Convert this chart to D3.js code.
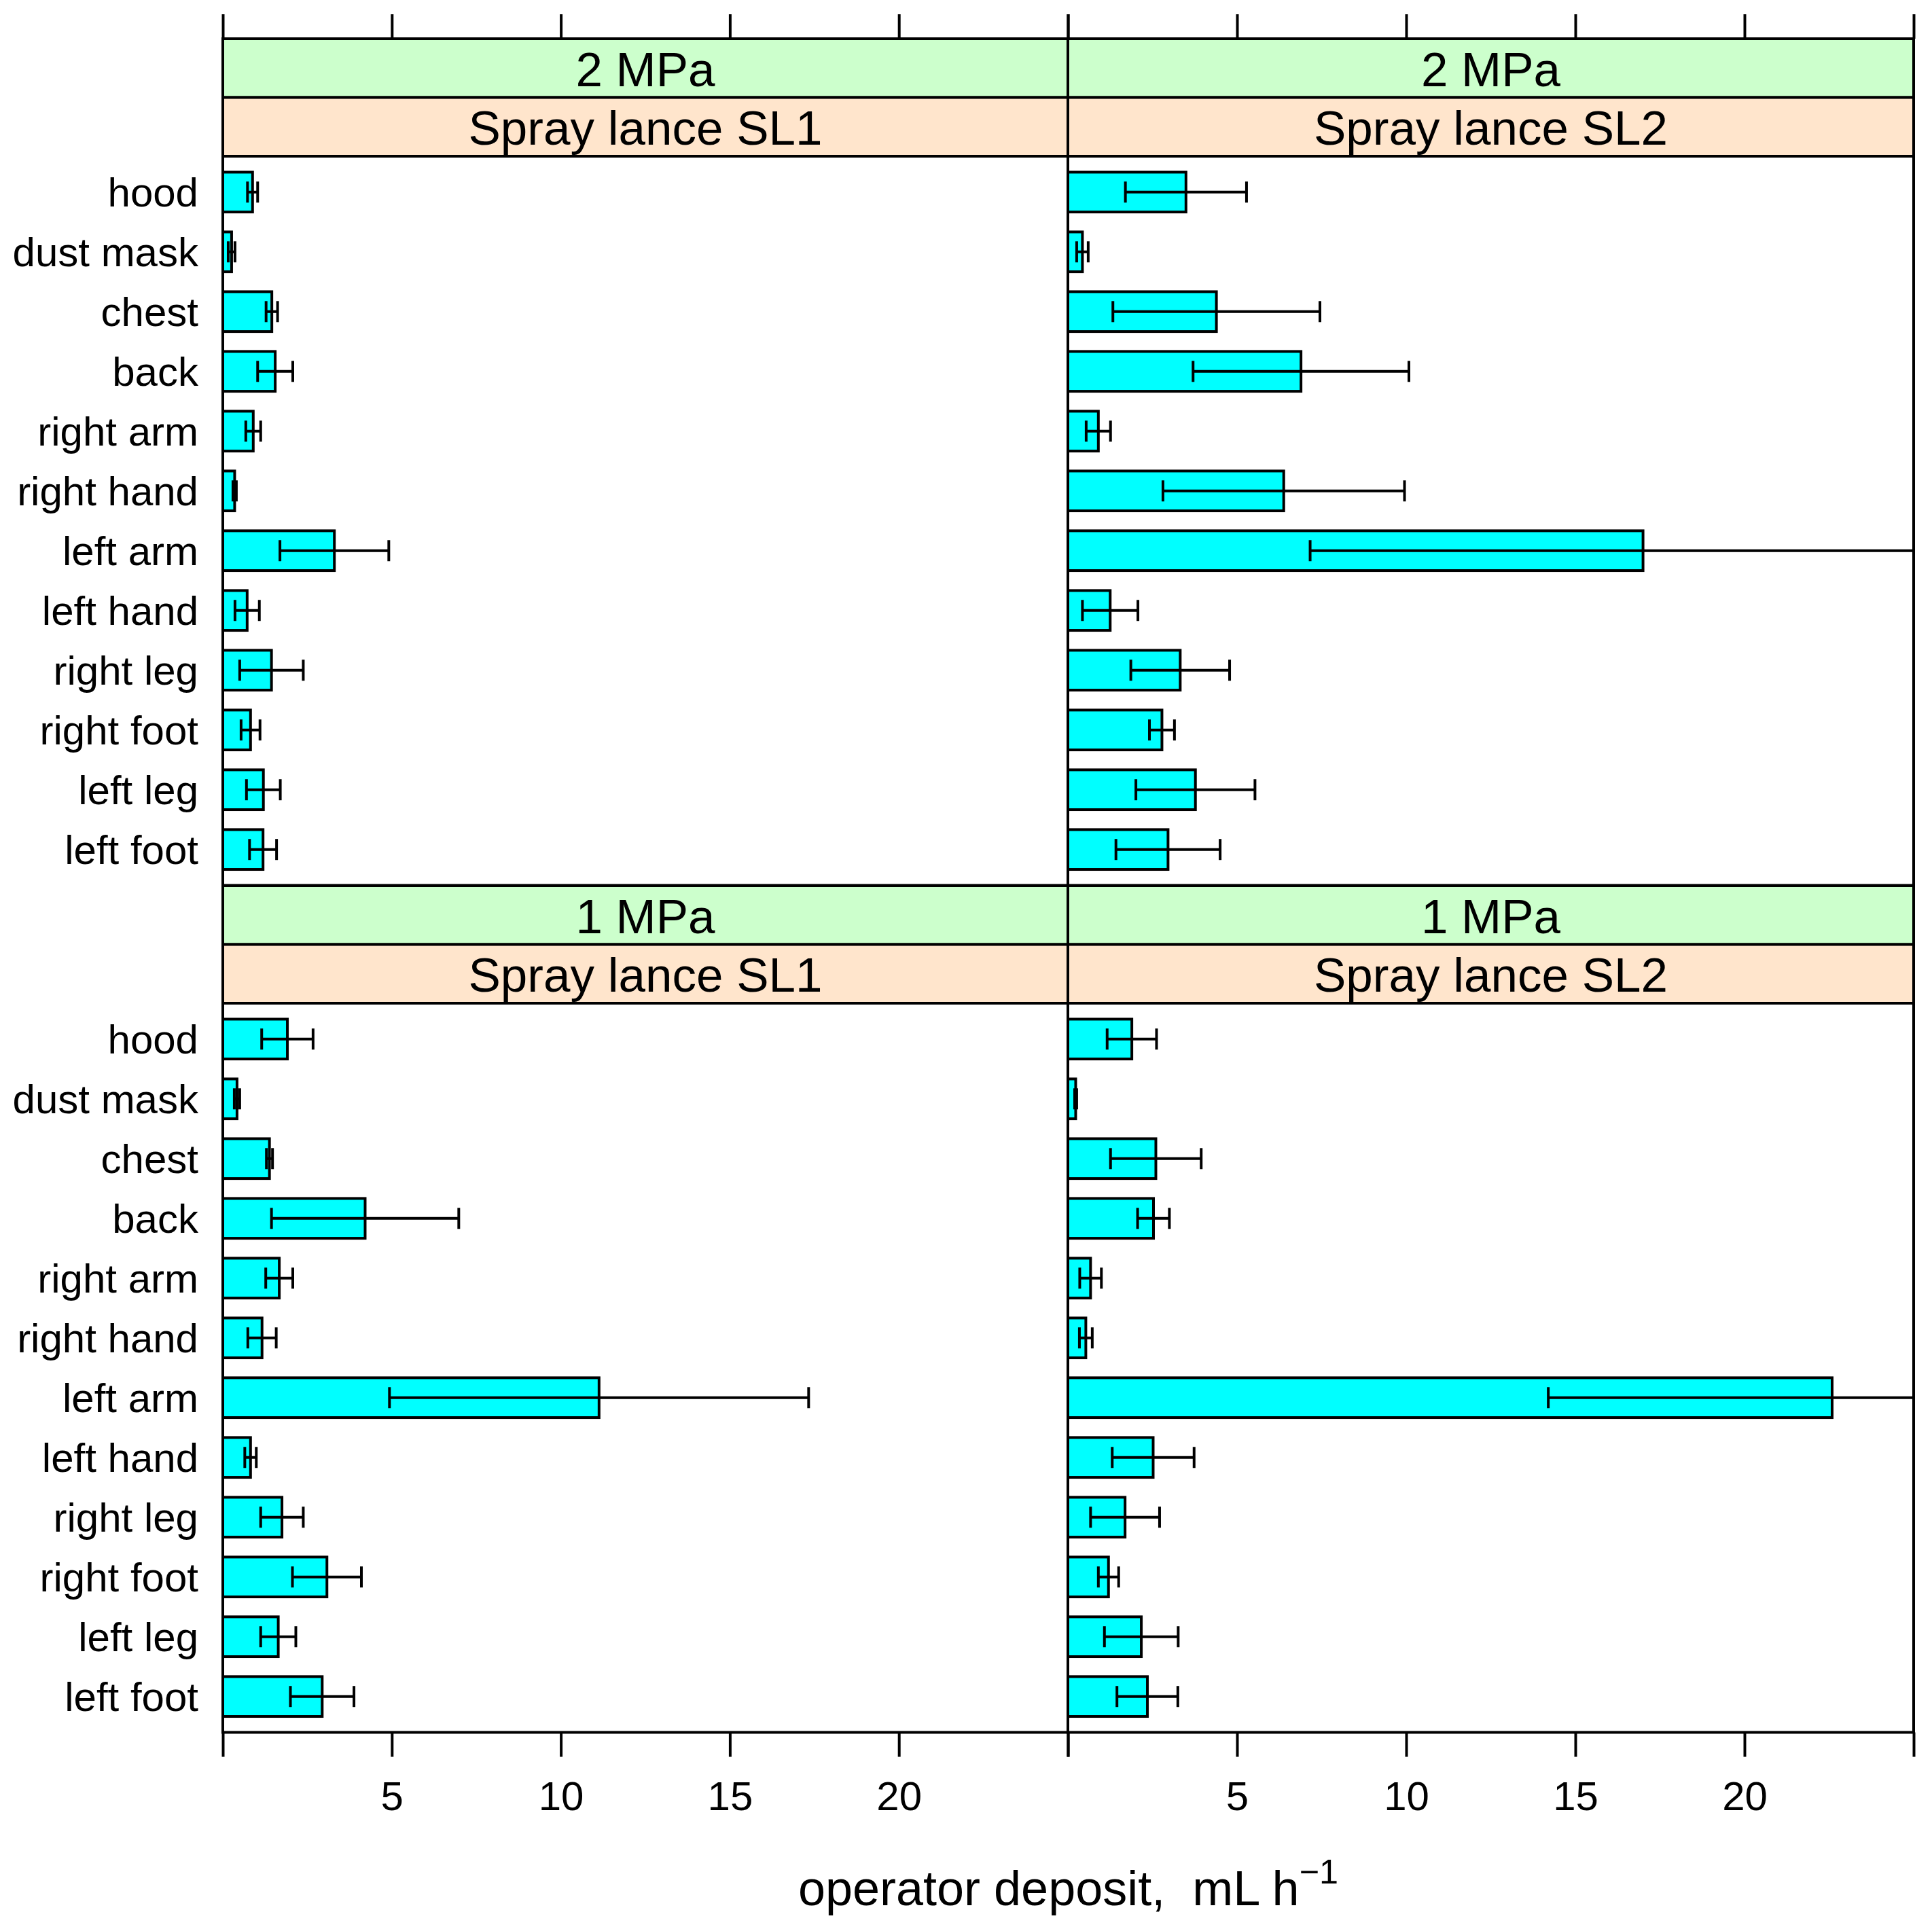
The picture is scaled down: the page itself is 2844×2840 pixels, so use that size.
<!DOCTYPE html>
<html>
<head>
<meta charset="utf-8">
<script src="https://cdn.jsdelivr.net/npm/d3@7"></script>
<style>
  html, body { margin: 0; padding: 0; background: #fff; }
  svg { display: block; }
  text { font-family: "Liberation Sans", Arial, Helvetica, sans-serif; fill: #000; }
</style>
</head>
<body>
<svg id="chart" width="2844" height="2840"></svg>
<script>
// ---------------- data ----------------
const categories = ["hood", "dust mask", "chest", "back", "right arm", "right hand",
  "left arm", "left hand", "right leg", "right foot", "left leg", "left foot"];

const pressures = ["2 MPa", "1 MPa"];
const lances = ["Spray lance SL1", "Spray lance SL2"];

// mean operator deposit (mL/h) and error half-width, per panel
const mean_2MPa_SL1 = [0.88, 0.26, 1.45, 1.55, 0.90, 0.35, 3.30, 0.72, 1.44, 0.82, 1.20, 1.19];
const err_2MPa_SL1  = [0.15, 0.10, 0.17, 0.52, 0.22, 0.05, 1.61, 0.36, 0.94, 0.28, 0.50, 0.40];

const mean_2MPa_SL2 = [3.49, 0.43, 4.39, 6.89, 0.90, 6.38, 17.0, 1.25, 3.32, 2.78, 3.77, 2.96];
const err_2MPa_SL2  = [1.79, 0.17, 3.06, 3.19, 0.36, 3.57, 9.84, 0.82, 1.46, 0.37, 1.76, 1.54];

const mean_1MPa_SL1 = [1.91, 0.42, 1.38, 4.21, 1.67, 1.16, 11.13, 0.82, 1.75, 3.08, 1.64, 2.94];
const err_1MPa_SL1  = [0.76, 0.08, 0.09, 2.77, 0.40, 0.42, 6.20, 0.17, 0.63, 1.02, 0.52, 0.94];

const mean_1MPa_SL2 = [1.89, 0.23, 2.60, 2.53, 0.67, 0.53, 22.59, 2.52, 1.69, 1.20, 2.17, 2.35];
const err_1MPa_SL2  = [0.73, 0.03, 1.34, 0.47, 0.32, 0.19, 8.39, 1.21, 1.02, 0.30, 1.09, 0.90];

const tickValues = [0, 5, 10, 15, 20, 25];
const tickLabels = ["", "5", "10", "15", "20", ""];
const xDomain = [0, 25];
const xLabel = "operator deposit,\u00a0\u00a0mL h";
const xLabelSup = "\u22121";

// ---------------- layout ----------------
const panels = [
  { row: 0, col: 0, p: pressures[0], l: lances[0], mean: mean_2MPa_SL1, err: err_2MPa_SL1 },
  { row: 0, col: 1, p: pressures[0], l: lances[1], mean: mean_2MPa_SL2, err: err_2MPa_SL2 },
  { row: 1, col: 0, p: pressures[1], l: lances[0], mean: mean_1MPa_SL1, err: err_1MPa_SL1 },
  { row: 1, col: 1, p: pressures[1], l: lances[1], mean: mean_1MPa_SL2, err: err_1MPa_SL2 }
];

const colX = [[328, 1572], [1572, 2817]];
const rowTop = [57, 1304];      // top of outer strip
const stripH = 86.5;
const panelH = 1073.5;
const tickLen = 36;
const frameW = 4;
const lineW = 4;
const fsLabel = 60, fsStrip = 71, fsTitle = 72;

const svg = d3.select("#chart");

panels.forEach(pn => {
  const [x0, x1] = colX[pn.col];
  const sTop = rowTop[pn.row];
  const pTop = sTop + 2 * stripH;
  const pBot = pTop + panelH;

  const x = d3.scaleLinear().domain(xDomain).range([x0, x1]);
  const y = d3.scalePoint().domain(categories).range([pTop, pBot]).padding(0.6);
  const barH = y.step() * 2 / 3;

  const g = svg.append("g");

  // strips
  g.append("rect").attr("x", x0).attr("y", sTop).attr("width", x1 - x0).attr("height", stripH)
    .attr("fill", "#ccffcc").attr("stroke", "#000").attr("stroke-width", frameW);
  g.append("rect").attr("x", x0).attr("y", sTop + stripH).attr("width", x1 - x0).attr("height", stripH)
    .attr("fill", "#ffe5cc").attr("stroke", "#000").attr("stroke-width", frameW);
  g.append("text").attr("x", (x0 + x1) / 2).attr("y", sTop + stripH / 2 + 0.37 * fsStrip)
    .attr("text-anchor", "middle").attr("font-size", fsStrip).text(pn.p);
  g.append("text").attr("x", (x0 + x1) / 2).attr("y", sTop + 1.5 * stripH + 0.37 * fsStrip)
    .attr("text-anchor", "middle").attr("font-size", fsStrip).text(pn.l);

  // clip
  const cid = "clip" + pn.row + pn.col;
  svg.append("defs").append("clipPath").attr("id", cid)
    .append("rect").attr("x", x0).attr("y", pTop).attr("width", x1 - x0).attr("height", panelH);

  const data = categories.map((c, i) => ({ c, m: pn.mean[i], e: pn.err[i] }));
  const body = g.append("g").attr("clip-path", `url(#${cid})`);

  body.selectAll("rect.bar").data(data).join("rect")
    .attr("class", "bar")
    .attr("x", x(0)).attr("y", d => y(d.c) - barH / 2)
    .attr("width", d => x(d.m) - x(0)).attr("height", barH)
    .attr("fill", "#00ffff").attr("stroke", "#000").attr("stroke-width", lineW);

  const capH = 31;
  body.selectAll("line.err").data(data).join("line")
    .attr("class", "err")
    .attr("x1", d => x(d.m - d.e)).attr("x2", d => x(d.m + d.e))
    .attr("y1", d => y(d.c)).attr("y2", d => y(d.c))
    .attr("stroke", "#000").attr("stroke-width", lineW);
  body.selectAll("line.capl").data(data).join("line")
    .attr("class", "capl")
    .attr("x1", d => x(d.m - d.e)).attr("x2", d => x(d.m - d.e))
    .attr("y1", d => y(d.c) - capH / 2).attr("y2", d => y(d.c) + capH / 2)
    .attr("stroke", "#000").attr("stroke-width", lineW);
  body.selectAll("line.caph").data(data).join("line")
    .attr("class", "caph")
    .attr("x1", d => x(d.m + d.e)).attr("x2", d => x(d.m + d.e))
    .attr("y1", d => y(d.c) - capH / 2).attr("y2", d => y(d.c) + capH / 2)
    .attr("stroke", "#000").attr("stroke-width", lineW);

  // panel frame
  g.append("rect").attr("x", x0).attr("y", pTop).attr("width", x1 - x0).attr("height", panelH)
    .attr("fill", "none").attr("stroke", "#000").attr("stroke-width", frameW);

  // y labels (left column only)
  if (pn.col === 0) {
    g.selectAll("text.cat").data(categories).join("text")
      .attr("class", "cat")
      .attr("x", x0 - 36).attr("y", d => y(d) + 0.36 * fsLabel)
      .attr("text-anchor", "end").attr("font-size", fsLabel).text(d => d);
  }

  // top axis ticks (top row)
  if (pn.row === 0) {
    const ax = d3.axisTop(x).tickValues(tickValues).tickSize(tickLen).tickFormat("");
    const a = g.append("g").attr("transform", `translate(0,${sTop})`).call(ax);
    a.select(".domain").remove();
    a.selectAll("line").attr("stroke-width", frameW).attr("stroke", "#000");
  }
  // bottom axis (bottom row)
  if (pn.row === 1) {
    const ax = d3.axisBottom(x).tickValues(tickValues).tickSize(tickLen)
      .tickFormat((d, i) => tickLabels[i]);
    const a = g.append("g").attr("transform", `translate(0,${pBot})`).call(ax);
    a.select(".domain").remove();
    a.selectAll("line").attr("stroke-width", frameW).attr("stroke", "#000");
    a.selectAll("text").attr("font-size", fsLabel)
      .attr("font-family", '"Liberation Sans", Arial, sans-serif')
      .attr("fill", "#000").attr("dy", null).attr("y", 2665 - pBot);
  }
});

// x-axis title
const title = svg.append("text")
  .attr("x", (colX[0][0] + colX[1][1]) / 2)
  .attr("y", 2805)
  .attr("text-anchor", "middle")
  .attr("font-size", fsTitle);
title.append("tspan").text(xLabel);
title.append("tspan").attr("font-size", fsTitle * 0.7).attr("dy", -32).text(xLabelSup);
</script>
</body>
</html>
